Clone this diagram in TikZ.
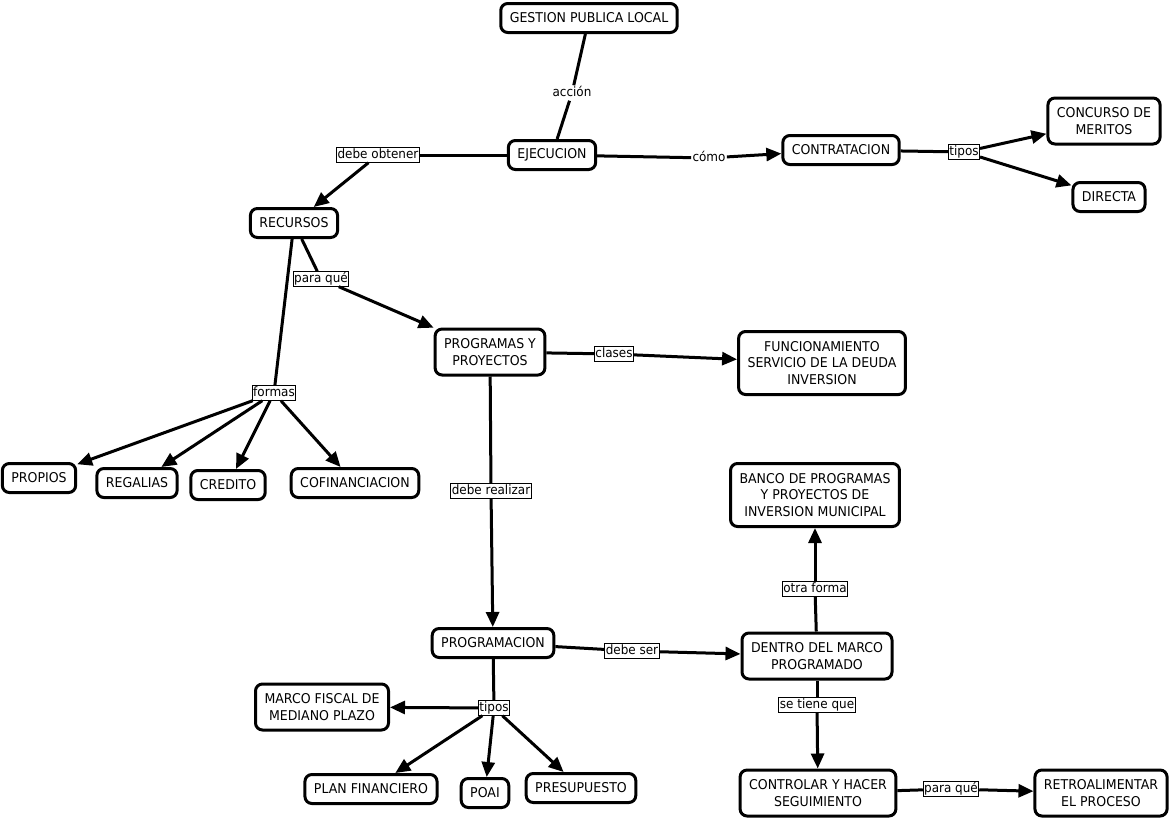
\documentclass[tikz,border=0pt]{standalone}
\usepackage{fontspec}
\setmainfont{DejaVu Sans}[FakeStretch=0.93]
\usetikzlibrary{arrows.meta}
\begin{document}
\begin{tikzpicture}[x=1pt,y=-1pt,
  concept/.style={draw,line width=3pt,rounded corners=7pt,fill=white,align=center,
    font=\fontsize{13.5}{16.8}\selectfont,inner xsep=9pt,inner ysep=2pt,minimum height=29pt},
  twol/.style={minimum height=46pt},
  threel/.style={minimum height=63pt},
  lbl/.style={draw,line width=0.8pt,fill=white,inner xsep=1pt,inner ysep=0.8pt,
    font=\fontsize{12.9}{14}\selectfont,text height=10pt,text depth=3pt},
  plainlbl/.style={lbl,draw=none},
  conn/.style={line width=3pt},
  arr/.style={line width=3pt,-{Triangle[length=15pt,width=13pt]}}]
\useasboundingbox (0,0) rectangle (1172,819);
\fill[white] (0,0) rectangle (1172,819);

% concepts
\node[concept] (G) at (589,18) {GESTION PUBLICA LOCAL};
\node[concept] (E) at (552,155) {EJECUCION};
\node[concept] (C) at (841,150) {CONTRATACION};
\node[concept,twol] (CM) at (1104,121) {CONCURSO DE\\MERITOS};
\node[concept] (D) at (1109,197) {DIRECTA};
\node[concept] (R) at (294,223) {RECURSOS};
\node[concept,twol] (PP) at (490,352) {PROGRAMAS Y\\PROYECTOS};
\node[concept,threel] (F) at (822,363) {FUNCIONAMIENTO\\SERVICIO DE LA DEUDA\\INVERSION};
\node[concept] (PR) at (39,478) {PROPIOS};
\node[concept] (RG) at (137,483) {REGALIAS};
\node[concept] (CR) at (228,485) {CREDITO};
\node[concept] (CF) at (355,483) {COFINANCIACION};
\node[concept,threel] (B) at (815,495) {BANCO DE PROGRAMAS\\Y PROYECTOS DE\\INVERSION MUNICIPAL};
\node[concept] (PG) at (493,643) {PROGRAMACION};
\node[concept,twol] (DM) at (817,656) {DENTRO DEL MARCO\\PROGRAMADO};
\node[concept,twol] (MF) at (322,707) {MARCO FISCAL DE\\MEDIANO PLAZO};
\node[concept] (PF) at (371,789) {PLAN FINANCIERO};
\node[concept] (PO) at (485,793) {POAI};
\node[concept] (PS) at (581,788) {PRESUPUESTO};
\node[concept,twol] (CS) at (818,793) {CONTROLAR Y HACER\\SEGUIMIENTO};
\node[concept,twol] (RT) at (1101,793) {RETROALIMENTAR\\EL PROCESO};

% link labels
\node[plainlbl] (l1) at (572,93) {acción};
\node[lbl] (l2) at (378,155) {debe obtener};
\node[plainlbl] (l3) at (709,158) {cómo};
\node[lbl] (l4) at (964,152) {tipos};
\node[lbl] (l5) at (321,279) {para qué};
\node[lbl] (l6) at (614,354) {clases};
\node[lbl] (l7) at (274,393) {formas};
\node[lbl] (l8) at (491,491) {debe realizar};
\node[lbl] (l9) at (815,589) {otra forma};
\node[lbl] (l10) at (632,651) {debe ser};
\node[lbl] (l11) at (494,708) {tipos};
\node[lbl] (l12) at (817,705) {se tiene que};
\node[lbl] (l13) at (951,789) {para qué};

% connectors
\draw[conn] (G) -- (l1);
\draw[conn] (l1) -- (E);
\draw[conn] (E) -- (l2);
\draw[arr] (l2) -- (R);
\draw[conn] (E) -- (l3);
\draw[arr] (l3) -- (C);
\draw[conn] (C) -- (l4);
\draw[arr] (l4) -- (CM);
\draw[arr] (l4) -- (D);
\draw[conn] (R) -- (l5);
\draw[arr] (l5) -- (PP);
\draw[conn] (R) -- (l7);
\draw[arr] (l7) -- (PR);
\draw[arr] (l7) -- (RG);
\draw[arr] (l7) -- (CR);
\draw[arr] (l7) -- (CF);
\draw[conn] (PP) -- (l6);
\draw[arr] (l6) -- (F);
\draw[conn] (PP) -- (l8);
\draw[arr] (l8) -- (PG);
\draw[conn] (PG) -- (l10);
\draw[arr] (l10) -- (DM);
\draw[conn] (DM) -- (l9);
\draw[arr] (l9) -- (B);
\draw[conn] (DM) -- (l12);
\draw[arr] (l12) -- (CS);
\draw[conn] (CS) -- (l13);
\draw[arr] (l13) -- (RT);
\draw[conn] (PG) -- (l11);
\draw[arr] (l11) -- (MF);
\draw[arr] (l11) -- (PF);
\draw[arr] (l11) -- (PO);
\draw[arr] (l11) -- (PS);
\end{tikzpicture}
\end{document}
